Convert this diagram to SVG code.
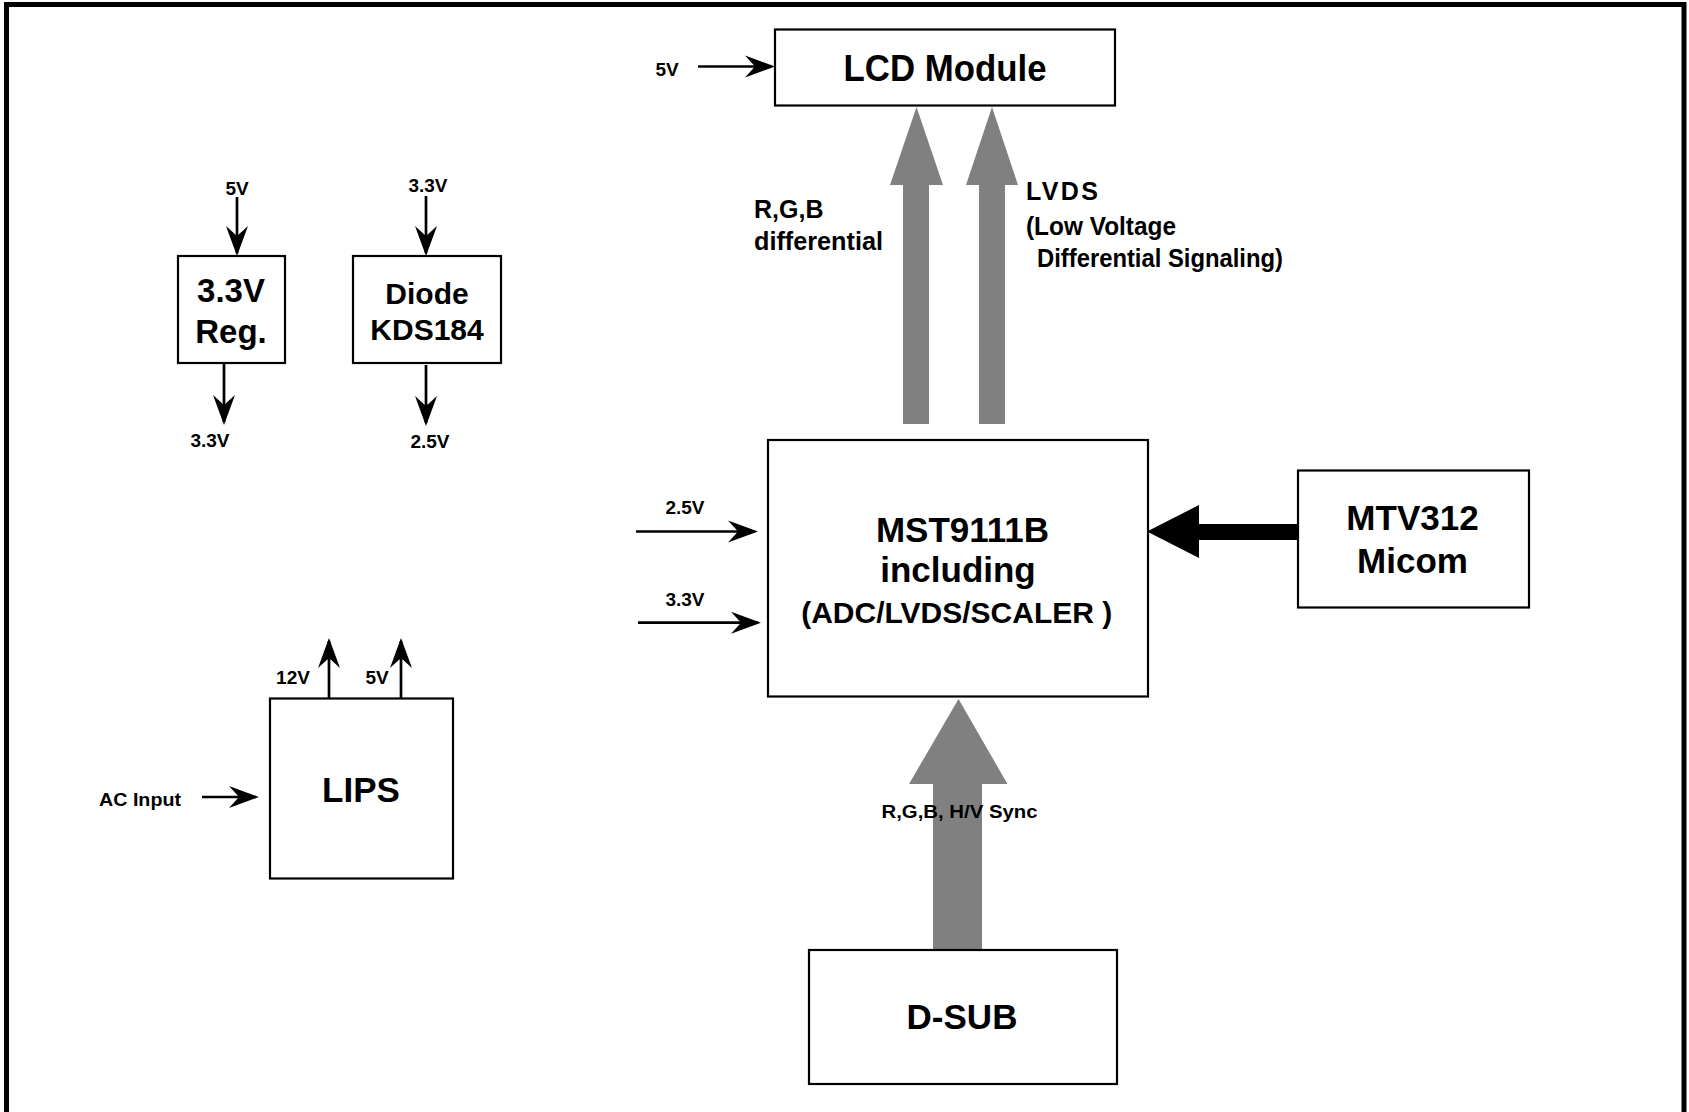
<svg xmlns="http://www.w3.org/2000/svg" width="1689" height="1112" viewBox="0 0 1689 1112">
<style>
.box{fill:#fff;stroke:#000;stroke-width:2.2}
.t{font-family:"Liberation Sans",Arial,sans-serif;font-weight:bold;fill:#000;text-anchor:middle}
.big{font-size:35px}
.lbl{font-size:19px}
.sig{font-size:25px;text-anchor:start}
.wire{stroke:#000;stroke-width:2.7;fill:none;marker-end:url(#ah)}
.bus{fill:#808080;stroke:none}
</style>
<defs>
<marker id="ah" markerUnits="userSpaceOnUse" markerWidth="32" markerHeight="24" refX="27" refY="11" orient="auto" overflow="visible">
<path d="M30,11 L0,0 L10,11 L0,22 Z" fill="#000"/>
</marker>
</defs>
<rect x="0" y="0" width="1689" height="1112" fill="#fff"/>
<rect id="frame" x="6.5" y="4.5" width="1677.5" height="1130" fill="none" stroke="#000" stroke-width="5"/>

<g id="connectors">
<line class="wire" x1="237" y1="197" x2="237" y2="253"/>
<line class="wire" x1="224" y1="364" x2="224" y2="422"/>
<line class="wire" x1="426" y1="196" x2="426" y2="253"/>
<line class="wire" x1="426" y1="365" x2="426" y2="423"/>
<line class="wire" x1="698" y1="66.5" x2="772" y2="66.5"/>
<line class="wire" x1="636" y1="531.5" x2="755" y2="531.5"/>
<line class="wire" x1="638" y1="622.7" x2="758" y2="622.7"/>
<line class="wire" x1="329" y1="698" x2="329" y2="641"/>
<line class="wire" x1="401" y1="698" x2="401" y2="641"/>
<line class="wire" x1="202" y1="797" x2="256" y2="797"/>
<polygon class="bus" points="903,424 903,185 890,185 916.5,107 943,185 929,185 929,424"/>
<polygon class="bus" points="979,424 979,185 966,185 992,107 1018,185 1005,185 1005,424"/>
<polygon class="bus" points="933,950 933,784 909,784 958.5,699 1007.5,784 982,784 982,950"/>
<polygon fill="#000" points="1298,524 1199,524 1199,505 1147,531.5 1199,558 1199,540 1298,540"/>
<text class="t lbl" x="237" y="195">5V</text>
<text class="t lbl" x="210" y="447">3.3V</text>
<text class="t lbl" x="428" y="192">3.3V</text>
<text class="t lbl" x="430" y="448">2.5V</text>
<text class="t lbl" x="667" y="76">5V</text>
<text class="t lbl" x="685" y="514">2.5V</text>
<text class="t lbl" x="685" y="606">3.3V</text>
<text class="t lbl" x="293" y="684">12V</text>
<text class="t lbl" x="377" y="684">5V</text>
<text class="t lbl" x="99" y="806" style="text-anchor:start" textLength="82" lengthAdjust="spacingAndGlyphs">AC Input</text>
<text class="t sig" x="754" y="218">R,G,B</text>
<text class="t sig" x="754" y="250" textLength="129" lengthAdjust="spacingAndGlyphs">differential</text>
<text class="t sig" x="1026" y="200" textLength="72" lengthAdjust="spacing">LVDS</text>
<text class="t sig" x="1026" y="235" textLength="150" lengthAdjust="spacingAndGlyphs">(Low Voltage</text>
<text class="t sig" x="1037" y="267" textLength="246" lengthAdjust="spacingAndGlyphs">Differential Signaling)</text>
<text class="t lbl" x="959.5" y="818" textLength="156" lengthAdjust="spacingAndGlyphs">R,G,B, H/V Sync</text>
</g>

<g id="reg">
<rect class="box" x="178" y="256" width="107" height="107"/>
<text class="t" x="231" y="302" font-size="33">3.3V</text>
<text class="t" x="231" y="343" font-size="33">Reg.</text>
</g>
<g id="diode">
<rect class="box" x="353" y="256" width="148" height="107"/>
<text class="t" x="427" y="304" font-size="30">Diode</text>
<text class="t" x="427" y="340" font-size="30">KDS184</text>
</g>
<g id="lcd">
<rect class="box" x="775" y="29.5" width="340" height="76"/>
<text class="t" x="945" y="81" font-size="37" textLength="203" lengthAdjust="spacingAndGlyphs">LCD Module</text>
</g>
<g id="mst">
<rect class="box" x="768" y="440" width="380" height="256.5"/>
<text class="t big" x="962.5" y="542">MST9111B</text>
<text class="t big" x="958" y="582">including</text>
<text class="t" x="956.7" y="623" font-size="30">(ADC/LVDS/SCALER )</text>
</g>
<g id="mtv">
<rect class="box" x="1298" y="470.5" width="231" height="137"/>
<text class="t big" x="1412.5" y="530">MTV312</text>
<text class="t big" x="1412.5" y="573">Micom</text>
</g>
<g id="dsub">
<rect class="box" x="809" y="950" width="308" height="134"/>
<text class="t big" x="962" y="1029">D-SUB</text>
</g>
<g id="lips">
<rect class="box" x="270" y="698.5" width="183" height="180"/>
<text class="t big" x="361" y="802">LIPS</text>
</g>
</svg>
